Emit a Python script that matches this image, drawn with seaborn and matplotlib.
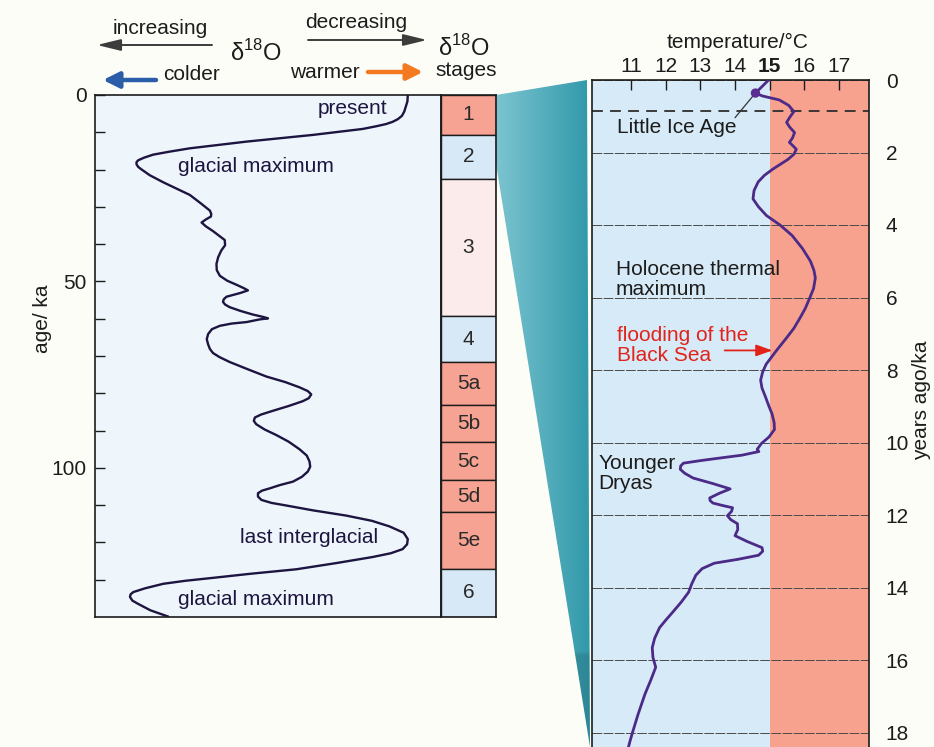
import numpy as np
import matplotlib
matplotlib.use("Agg")
import matplotlib.pyplot as plt
import matplotlib.colors as mcolors
from matplotlib.patches import Polygon
import seaborn as sns

sns.set_theme(style="white")
plt.rcParams['font.family'] = ['Liberation Sans', 'DejaVu Sans']
plt.rcParams['mathtext.fontset'] = 'custom'
plt.rcParams['mathtext.rm'] = 'Liberation Sans'

# --- values ---
# left: d18O curve, age/ka against position across the panel (0 = colder edge, 100 = warmer edge)
d18o_age = [0, 1.7, 4.4, 5.6, 6.5, 7.2, 7.8, 8.4, 9.1, 10.7,
            12.5, 14.3, 15.2, 16.0, 16.8, 17.5, 18.0, 18.6, 19.3, 20.0,
            21.5, 23.4, 26.8, 29.0, 31.0, 31.9, 32.6, 33.4, 34.2, 35.2,
            36.5, 38.9, 40.3, 41.7, 43.5, 45.3, 47.0, 48.5, 49.8, 50.9,
            51.8, 52.4, 53.1, 54.1, 54.8, 55.5, 56.2, 56.9, 57.9, 58.9,
            59.5, 59.9, 60.2, 60.9, 61.3, 61.9, 62.8, 64.1, 65.5, 66.9,
            68.1, 69.2, 70.3, 71.6, 73.5, 75.5, 77.0, 78.4, 79.4, 80.3,
            81.3, 82.1, 83.4, 84.7, 85.7, 86.5, 87.4, 88.3, 89.7, 91.2,
            93.0, 95.0, 96.7, 98.3, 99.7, 101.0, 102.4, 103.7, 104.6, 105.5,
            106.1, 106.8, 107.7, 108.6, 109.4, 110.1, 111.4, 112.8, 114.2, 115.7,
            117.4, 119.1, 120.5, 121.8, 122.9, 123.9, 125.5, 127.2, 128.4, 129.5,
            130.3, 131.1, 132.3, 133.3, 133.9, 134.6, 135.6, 136.5, 138.2, 139.9]
d18o_pos = [90.4, 90.3, 89.4, 88.7, 87.5, 86.0, 84.1, 81.2, 77.4, 63.0,
            43.8, 27.4, 21.5, 16.8, 14.2, 12.5, 12.0, 12.0, 12.5, 13.5,
            15.8, 19.7, 27.4, 30.5, 33.2, 33.6, 33.5, 32.0, 30.8, 32.0,
            34.1, 37.5, 37.6, 36.5, 35.6, 35.1, 35.2, 36.1, 38.2, 40.9,
            43.0, 44.2, 42.0, 38.0, 37.2, 37.0, 37.6, 38.9, 42.0, 45.7,
            48.5, 50.0, 47.5, 43.8, 39.5, 36.1, 33.8, 32.7, 32.3, 32.7,
            33.2, 34.1, 36.0, 38.9, 44.0, 49.5, 55.0, 59.1, 61.5, 62.5,
            61.8, 60.1, 56.0, 51.4, 48.0, 46.2, 45.9, 46.6, 49.0, 52.4,
            56.0, 59.1, 61.2, 62.0, 62.2, 61.5, 59.8, 57.2, 53.5, 50.5,
            48.3, 47.1, 47.1, 48.1, 51.0, 55.3, 63.0, 72.6, 80.0, 85.1,
            89.2, 90.4, 90.2, 88.9, 85.5, 80.3, 70.0, 58.2, 45.0, 34.1,
            26.0, 19.7, 14.5, 11.1, 10.3, 10.1, 10.8, 12.5, 16.0, 21.2]

# oxygen isotope stages
stage_names = ['1', '2', '3', '4', '5a', '5b', '5c', '5d', '5e', '6']
stage_top = [0, 10.7, 22.5, 59.2, 71.7, 83.2, 93.1, 103.3, 111.9, 127.1]
stage_bottom = [10.7, 22.5, 59.2, 71.7, 83.2, 93.1, 103.3, 111.9, 127.1, 140]
stage_kind = ['warm', 'cold', 'mild', 'cold', 'warm', 'warm', 'warm', 'warm', 'warm', 'cold']

# right: temperature over the last 18 ka
temp_age = [0, 0.22, 0.36, 0.44, 0.55, 0.7, 0.87, 1.03, 1.17, 1.3,
            1.45, 1.6, 1.72, 1.82, 1.91, 2.05, 2.19, 2.3, 2.46, 2.63,
            2.81, 3.05, 3.28, 3.5, 3.74, 4.0, 4.29, 4.65, 5.0, 5.25,
            5.46, 5.75, 6.01, 6.3, 6.56, 6.85, 7.10, 7.46, 7.84, 8.05,
            8.28, 8.5, 8.74, 9.0, 9.21, 9.45, 9.64, 9.85, 10.03, 10.19,
            10.25, 10.35, 10.44, 10.5, 10.57, 10.65, 10.74, 10.85, 10.98, 11.13,
            11.28, 11.4, 11.53, 11.6, 11.67, 11.74, 11.80, 11.9, 12.02, 12.13,
            12.24, 12.4, 12.57, 12.73, 12.90, 13.0, 13.11, 13.22, 13.33, 13.48,
            13.66, 13.9, 14.13, 14.4, 14.67, 14.9, 15.11, 15.4, 15.66, 15.93,
            16.20, 16.55, 16.94, 17.5, 18.03, 18.3, 18.5]
temp_c = [14.97, 14.74, 14.59, 14.79, 15.28, 15.55, 15.70, 15.58, 15.49, 15.58,
          15.72, 15.66, 15.57, 15.68, 15.77, 15.70, 15.53, 15.35, 15.09, 14.85,
          14.67, 14.55, 14.52, 14.68, 14.91, 15.30, 15.65, 15.95, 16.18, 16.28,
          16.32, 16.27, 16.16, 16.03, 15.88, 15.70, 15.50, 15.20, 14.90, 14.80,
          14.74, 14.78, 14.88, 14.98, 15.07, 15.13, 15.14, 14.98, 14.76, 14.64,
          14.69, 14.20, 13.47, 13.00, 12.51, 12.43, 12.42, 12.55, 12.79, 13.35,
          13.86, 13.55, 13.27, 13.28, 13.36, 13.65, 13.93, 13.90, 13.78, 13.88,
          14.07, 14.08, 14.00, 14.35, 14.78, 14.80, 14.68, 14.10, 13.40, 13.05,
          12.87, 12.75, 12.66, 12.45, 12.21, 12.00, 11.82, 11.68, 11.61, 11.63,
          11.71, 11.57, 11.40, 11.20, 11.03, 10.95, 10.90]
lia_age, lia_temp = 0.36, 14.59      # Little Ice Age point
lia_line_age = 0.85
flood_age = 7.46
temp_split = 15                      # colder / warmer boundary
temp_ticks = [11, 12, 13, 14, 15, 16, 17]

stage_colors = {'warm': '#f6a393', 'cold': '#d7e9f6', 'mild': '#fbeceb'}
ink = '#1c1c1c'

W, H = 934, 747
fig = plt.figure(figsize=(W / 100, H / 100), dpi=100, facecolor='#fdfdf8')


def frac(x0, y0, x1, y1):
    return [x0 / W, 1 - y1 / H, (x1 - x0) / W, (y1 - y0) / H]


ax_bg = fig.add_axes([0, 0, 1, 1])
ax_bg.set_xlim(0, W)
ax_bg.set_ylim(H, 0)
ax_bg.axis('off')

ax1 = fig.add_axes(frac(95, 95, 441, 617))
ax2 = fig.add_axes(frac(441, 95, 496, 617))
ax3 = fig.add_axes(frac(592, 80, 869, 747))

# ---- left: d18O record ----
ax1.set_facecolor('#eef6fb')
sns.lineplot(x=d18o_pos, y=d18o_age, sort=False, estimator=None,
             color='#1d1440', lw=1.7, ax=ax1, solid_joinstyle='round')
ax1.set_xlim(0, 100)
ax1.set_ylim(140, 0)
ax1.set_xticks([])
yt = list(range(0, 140, 10))
ax1.set_yticks(yt)
ax1.set_yticklabels([str(v) if v % 50 == 0 else '' for v in yt])
ax1.tick_params(axis='y', left=True, direction='in', length=7, width=1,
                color=ink, pad=6, labelsize=15, labelcolor=ink)
ax1.set_xlabel('')
ax1.set_ylabel('')
ax1.text(-0.153, 0.571, 'age/ ka', transform=ax1.transAxes, rotation=90,
         ha='center', va='center', fontsize=15, color=ink)

txt = dict(fontsize=15, color='#1d1440', va='center')
ax1.text(84.6, 3.5, 'present', ha='right', **txt)
ax1.text(24, 19.2, 'glacial maximum', ha='left', **txt)
ax1.text(41.8, 118.8, 'last interglacial', ha='left', **txt)
ax1.text(24, 135.3, 'glacial maximum', ha='left', **txt)

# ---- stage column ----
centers = [(a + b) / 2 for a, b in zip(stage_top, stage_bottom)]
heights = [b - a for a, b in zip(stage_top, stage_bottom)]
ax2.barh(centers, [1] * len(centers), height=heights, left=0,
         color=[stage_colors[k] for k in stage_kind], edgecolor=ink, linewidth=1)
ax2.set_xlim(0, 1)
ax2.set_ylim(140, 0)
ax2.set_xticks([])
ax2.set_yticks([])
for c, name in zip(centers, stage_names):
    ax2.text(0.5, c, name, ha='center', va='center', fontsize=15, color='#2a2a2a')

# ---- right: temperature ----
ax3.set_facecolor('#d7eaf7')
ax3.set_xlim(9.87, 17.87)
ax3.set_ylim(18.4, 0)
ax3.axvspan(temp_split, 17.87, color='#f7a28f', lw=0, zorder=0)
ax3.set_yticks(range(0, 19, 2))
ax3.grid(axis='y', color='#4a4a4a', lw=0.7, ls=(0, (10, 1.5)))
ax3.axhline(lia_line_age, color='#2e2e2e', lw=1.3, ls=(0, (6, 4)))
sns.lineplot(x=temp_c, y=temp_age, sort=False, estimator=None,
             color='#4b2a88', lw=2.0, ax=ax3, zorder=4, solid_joinstyle='round')
sns.scatterplot(x=[lia_temp], y=[lia_age], s=45, color='#5b2c92',
                edgecolor='none', ax=ax3, zorder=5)
ax3.set_xlabel('')
ax3.set_ylabel('')
ax3.xaxis.tick_top()
ax3.set_xticks(temp_ticks)
ax3.tick_params(axis='x', top=True, direction='in', length=7, width=1,
                color=ink, pad=3, labelsize=15, labelcolor=ink)
ax3.get_xticklabels()[temp_ticks.index(15)].set_fontweight('bold')
ax3.yaxis.tick_right()
ax3.tick_params(axis='y', right=True, length=0, pad=12, labelsize=15, labelcolor=ink)
ax3.spines['bottom'].set_visible(False)

ax3.text(0.525, 1.057, 'temperature/°C', transform=ax3.transAxes,
         ha='center', va='center', fontsize=15, color=ink)
ax3.text(1.188, 0.52, 'years ago/ka', transform=ax3.transAxes, rotation=90,
         ha='center', va='center', fontsize=15, color=ink)

ax3.text(10.59, 1.31, 'Little Ice Age', ha='left', va='center', fontsize=15, color=ink)
ax3.annotate('', xy=(lia_temp, lia_age), xytext=(14.0, 1.04),
             arrowprops=dict(arrowstyle='-', color='#333333', lw=0.9,
                             shrinkA=0, shrinkB=2))
ax3.text(10.56, 5.5, 'Holocene thermal\nmaximum', ha='left', va='center',
         fontsize=15, color=ink, linespacing=1.05)
ax3.text(10.6, 7.32, 'flooding of the\nBlack Sea', ha='left', va='center',
         fontsize=15, color='#e2231a', linespacing=1.05)
ax3.annotate('', xy=(15.08, flood_age), xytext=(13.7, flood_age),
             arrowprops=dict(arrowstyle='-|>,head_length=0.7,head_width=0.25',
                             color='#e2231a', lw=1.3, shrinkA=0, shrinkB=0,
                             mutation_scale=14))
ax3.text(10.05, 10.85, 'Younger\nDryas', ha='left', va='center', fontsize=15,
         color=ink, linespacing=1.05)

for ax in (ax1, ax2, ax3):
    for s in ax.spines.values():
        s.set_color(ink)
        s.set_linewidth(1.2)

# ---- zoom wedge linking stage 1 to the right panel ----
span = ax3.get_ylim()[0]
corners = np.array([ax2.transData.transform((1, 0)),
                    ax2.transData.transform((1, span)),
                    ax3.transAxes.transform((0, 0)) - [2, 0],
                    ax3.transAxes.transform((0, 1)) - [5, 0]])
pts = ax_bg.transData.inverted().transform(corners)
wedge = Polygon(pts, closed=True, transform=ax_bg.transData,
                facecolor='none', edgecolor='none')
ax_bg.add_patch(wedge)
gx = np.linspace(0, 1, 256)[None, :, None]
gy = np.linspace(0, 1, 128)[:, None, None]
light = np.array(mcolors.to_rgb('#7cc4d0'))
dark = np.array(mcolors.to_rgb('#3199aa'))
img = light * (1 - gx) + dark * gx
img = img * np.where(gy > 0.86, 0.88, 1.0)
img = np.clip(img, 0, 1)
x0, x1 = pts[:, 0].min(), pts[:, 0].max()
y0, y1 = pts[:, 1].min(), pts[:, 1].max()
im = ax_bg.imshow(img, extent=(x0, x1, y1, y0), aspect='auto', interpolation='bilinear')
im.set_clip_path(wedge)
ax_bg.set_xlim(0, W)
ax_bg.set_ylim(H, 0)

# ---- header ----
hdr = dict(fontsize=15, color=ink, ha='center', va='center')
ax_bg.text(160, 29, 'increasing', **hdr)
ax_bg.text(356, 22, 'decreasing', **hdr)
ax_bg.text(256, 53, 'δ$^{\\mathregular{18}}$O', fontsize=17, color=ink, ha='center', va='center')
ax_bg.text(464, 48, 'δ$^{\\mathregular{18}}$O', fontsize=17, color=ink, ha='center', va='center')
ax_bg.text(466, 70, 'stages', **hdr)
ax_bg.text(192, 75, 'colder', **hdr)
ax_bg.text(325, 72, 'warmer', **hdr)

thin = '-|>,head_length=0.9,head_width=0.22'
ax_bg.annotate('', xy=(97, 45), xytext=(212, 45),
               arrowprops=dict(arrowstyle=thin, color='#3c3c3c', lw=1.4,
                               shrinkA=0, shrinkB=0, mutation_scale=16))
ax_bg.annotate('', xy=(427, 40), xytext=(308, 40),
               arrowprops=dict(arrowstyle=thin, color='#3c3c3c', lw=1.4,
                               shrinkA=0, shrinkB=0, mutation_scale=16))
thick = '-|>,head_length=0.6,head_width=0.3'
ax_bg.annotate('', xy=(103, 80), xytext=(156, 80),
               arrowprops=dict(arrowstyle=thick, color='#2b5ea9', lw=3.2,
                               shrinkA=0, shrinkB=0, mutation_scale=16))
ax_bg.annotate('', xy=(423, 72), xytext=(368, 72),
               arrowprops=dict(arrowstyle=thick, color='#f47a22', lw=3.2,
                               shrinkA=0, shrinkB=0, mutation_scale=16))

fig.savefig('out.png', dpi=100, facecolor=fig.get_facecolor())
